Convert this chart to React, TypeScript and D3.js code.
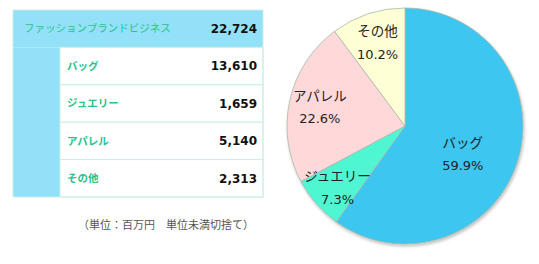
import React, { useRef, useEffect } from 'react';
import * as d3 from 'd3';

const totalLabel = 'ファッションブランドビジネス';
const totalValue = 22724;
const categories = ['バッグ', 'ジュエリー', 'アパレル', 'その他'];
const values = [13610, 1659, 5140, 2313];
const percentLabels = ['59.9%', '7.3%', '22.6%', '10.2%'];
const colors = ['#3ec6f0', '#4ff6d2', '#ffd9da', '#ffffd6'];
const note = '（単位：百万円　単位未満切捨て）';

const W = 539;
const H = 264;

export default function App() {
  const svgRef = useRef<SVGSVGElement>(null);

  useEffect(() => {
    const svg = d3.select(svgRef.current);
    svg.selectAll('*').remove();

    const jp = "'Noto Sans CJK JP', sans-serif";
    const num = "'DejaVu Sans', Verdana, sans-serif";

    // ---- table
    const tx0 = 13, tx1 = 263, indent = 60;
    const rowY = d3.scaleBand<number>()
      .domain(d3.range(categories.length + 1))
      .range([10, 197]);

    const t = svg.append('g');
    t.append('rect')
      .attr('x', tx0).attr('y', rowY(0)!)
      .attr('width', tx1 - tx0).attr('height', rowY.bandwidth())
      .attr('fill', '#93e1f8');
    t.append('rect')
      .attr('x', tx0).attr('y', rowY(1)!)
      .attr('width', indent - tx0).attr('height', rowY.bandwidth() * categories.length)
      .attr('fill', '#93e1f8');

    t.selectAll('.cell')
      .data(categories)
      .join('rect')
      .attr('x', indent)
      .attr('y', (d, i) => rowY(i + 1)!)
      .attr('width', tx1 - indent)
      .attr('height', rowY.bandwidth())
      .attr('fill', '#fff')
      .attr('stroke', '#c9efe6')
      .attr('stroke-width', 1);

    t.append('rect')
      .attr('x', tx0).attr('y', rowY(0)!)
      .attr('width', tx1 - tx0).attr('height', 187)
      .attr('fill', 'none')
      .attr('stroke', '#c9efe6');

    t.append('text')
      .attr('x', 24).attr('y', rowY(0)! + rowY.bandwidth() / 2)
      .attr('dy', '0.35em')
      .attr('font-family', jp).attr('font-size', 10.5)
      .attr('fill', '#27c48a')
      .text(totalLabel);
    t.append('text')
      .attr('x', 257).attr('y', rowY(0)! + rowY.bandwidth() / 2)
      .attr('dy', '0.35em').attr('text-anchor', 'end')
      .attr('font-family', num).attr('font-size', 12).attr('font-weight', 'bold')
      .attr('fill', '#111')
      .text(d3.format(',')(totalValue));

    t.selectAll('.lab')
      .data(categories)
      .join('text')
      .attr('x', 67)
      .attr('y', (d, i) => rowY(i + 1)! + rowY.bandwidth() / 2)
      .attr('dy', '0.35em')
      .attr('font-family', jp).attr('font-size', 10.5).attr('font-weight', 'bold')
      .attr('fill', '#27c48a')
      .text(d => d);
    t.selectAll('.val')
      .data(values)
      .join('text')
      .attr('x', 257)
      .attr('y', (d, i) => rowY(i + 1)! + rowY.bandwidth() / 2)
      .attr('dy', '0.35em').attr('text-anchor', 'end')
      .attr('font-family', num).attr('font-size', 12).attr('font-weight', 'bold')
      .attr('fill', '#111')
      .text(d => d3.format(',')(d));

    t.append('text')
      .attr('x', 166).attr('y', 225)
      .attr('dy', '0.35em').attr('text-anchor', 'middle')
      .attr('font-family', jp).attr('font-size', 11)
      .attr('fill', '#555')
      .text(note);

    // ---- pie
    const cx = 405, cy = 126, r = 118;
    const defs = svg.append('defs');
    const f = defs.append('filter').attr('id', 'sh')
      .attr('x', '-10%').attr('y', '-10%').attr('width', '130%').attr('height', '130%');
    f.append('feDropShadow')
      .attr('dx', 1).attr('dy', 2).attr('stdDeviation', 1.5)
      .attr('flood-color', '#000').attr('flood-opacity', 0.25);

    const pie = d3.pie<number>().sort(null).value(d => d);
    const arcs = pie(values);
    const arc = d3.arc<d3.PieArcDatum<number>>().innerRadius(0).outerRadius(r);
    const labelFactor = [0.55, 0.76, 0.74, 0.74];
    const labelNudge = [[-4, 8], [0, 2], [0, 0], [0, -1]];

    const g = svg.append('g').attr('transform', `translate(${cx},${cy})`);
    g.append('g').attr('filter', 'url(#sh)')
      .selectAll('path')
      .data(arcs)
      .join('path')
      .attr('d', arc)
      .attr('fill', (d, i) => colors[i])
      .attr('stroke', '#a9b7a8')
      .attr('stroke-width', 0.8);

    arcs.forEach((a, i) => {
      const lr = r * labelFactor[i];
      const la = d3.arc<d3.PieArcDatum<number>>().innerRadius(lr).outerRadius(lr);
      const [x0, y0] = la.centroid(a);
      const x = x0 + labelNudge[i][0];
      const y = y0 + labelNudge[i][1];
      g.append('text')
        .attr('x', x).attr('y', y - 11)
        .attr('dy', '0.35em').attr('text-anchor', 'middle')
        .attr('font-family', jp).attr('font-size', 13.5)
        .attr('fill', '#222')
        .text(categories[i]);
      g.append('text')
        .attr('x', x).attr('y', y + 12)
        .attr('dy', '0.35em').attr('text-anchor', 'middle')
        .attr('font-family', num).attr('font-size', 13)
        .attr('fill', '#222')
        .text(percentLabels[i]);
    });
  }, []);

  return (
    <div style={{ position: 'absolute', left: 0, top: 0 }}>
      <svg ref={svgRef} width={W} height={H} style={{ display: 'block', background: '#fff' }} />
    </div>
  );
}
